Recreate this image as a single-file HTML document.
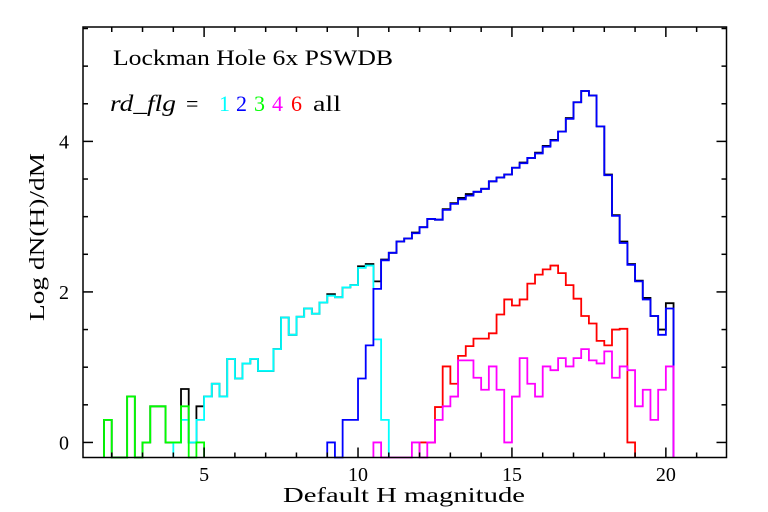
<!DOCTYPE html>
<html>
<head>
<meta charset="utf-8">
<style>
  html, body { margin: 0; padding: 0; background: #fff; }
  svg { display: block; }
  text { font-family: "Liberation Serif", serif; fill: #000; }
</style>
</head>
<body>
<svg id="chart" width="768" height="512" viewBox="0 0 768 512" xmlns="http://www.w3.org/2000/svg">
  <rect x="0" y="0" width="768" height="512" fill="#fff"/>
  <g id="series"></g>
  <g id="axes"></g>
  <text x="113" y="65" font-size="22" textLength="280" lengthAdjust="spacingAndGlyphs">Lockman Hole 6x PSWDB</text>
  <g>
    <text x="110" y="111" font-size="23" font-style="italic" textLength="66" lengthAdjust="spacingAndGlyphs">rd_flg</text>
    <text x="186" y="111" font-size="22">=</text>
    <text x="219" y="111" font-size="22" style="fill:#00ffff">1</text>
    <text x="236" y="111" font-size="22" style="fill:#0000ff">2</text>
    <text x="254" y="111" font-size="22" style="fill:#00ff00">3</text>
    <text x="272" y="111" font-size="22" style="fill:#ff00ff">4</text>
    <text x="291" y="111" font-size="22" style="fill:#ff0000">6</text>
    <text x="313" y="111" font-size="22" textLength="28" lengthAdjust="spacingAndGlyphs">all</text>
  </g>
  <text x="404" y="502" font-size="21" text-anchor="middle" textLength="242" lengthAdjust="spacingAndGlyphs">Default H magnitude</text>
  <text transform="translate(44,237) rotate(-90)" x="0" y="0" font-size="21" text-anchor="middle" textLength="168" lengthAdjust="spacingAndGlyphs">Log dN(H)/dM</text>
</svg>
<script>
// ---- data ----
const binWidth = 0.25;
const allStart = 1.75;
const allValues = [0.30,null,null,0.61,null,0,0.48,0.48,0,0,0.71,0,0.48,
  0.61,0.78,0.61,1.11,0.85,1.05,1.11,0.95,0.95,1.24,1.66,1.43,1.67,1.78,1.71,1.86,
  1.97,1.93,2.06,2.09,2.34,2.37,2.14,2.43,2.52,2.67,2.71,2.79,2.86,2.97,2.96,3.10,
  3.18,3.25,3.30,3.33,3.37,3.47,3.52,3.56,3.65,3.72,3.78,3.85,3.94,4.02,4.13,4.31,
  4.52,4.67,4.61,4.20,3.56,3.02,2.67,2.37,2.15,1.92,1.68,1.50,1.85];
const cyanStart = 4.0;
const cyanValues = [0,0.30,0,0.30,0.61,0.78,0.61,1.11,0.85,1.05,1.11,0.95,0.95,1.24,1.66,1.43,
  1.67,1.78,1.71,1.86,1.95,1.93,2.06,2.09,2.32,2.35,1.37,0.30];
const blueStart = 9.0;
const blueValues = [0,null,0.30,0.30,0.85,1.29,2.04,2.42,2.52,2.67,2.71,2.78,2.86,2.97,2.96,3.09,
  3.17,3.23,3.28,3.33,3.37,3.47,3.52,3.56,3.65,3.71,3.78,3.84,3.93,4.01,4.13,4.30,
  4.52,4.67,4.61,4.20,3.55,3.01,2.65,2.36,2.14,1.90,1.68,1.43,1.78];
const greenStart = 1.75;
const greenValues = [0.30,null,null,0.61,null,0,0.48,0.48,0,0,0.48,null,0];
const magentaStart = 10.5;
const magentaValues = [0,null,null,null,null,0,null,0,0.30,0.48,0.61,1.09,1.09,0.86,0.70,1.01,0.70,0,
  0.61,1.12,0.78,0.61,1.01,0.96,1.12,1.01,1.12,1.24,1.09,1.05,1.21,0.86,1.01,0.96,0.48,0.70,0.30,0.70,1.01];
const redStart = 12.0;
const redValues = [0,0,0.47,1.01,0.78,1.15,1.28,1.38,1.38,1.45,1.70,1.90,1.82,1.90,2.11,2.23,
  2.30,2.35,2.25,2.09,1.91,1.68,1.58,1.35,1.29,1.50,1.51,0];
const xTickLabels = ["5","10","15","20"];
const xTickValues = [5,10,15,20];
const yTickLabels = ["0","2","4"];
const yTickValues = [0,2,4];

// ---- axes ----
const L = 83, R = 726.5, T = 27, B = 457.5;
const xMin = 1.066, xMax = 21.97;
const yMin = -0.2, yMax = 5.52;
function xs(v){ return L + (v - xMin) / (xMax - xMin) * (R - L); }
function ys(v){ return B - (v - yMin) / (yMax - yMin) * (B - T); }
const NS = "http://www.w3.org/2000/svg";
const seriesG = document.getElementById('series');
const axesG = document.getElementById('axes');

function stepPath(start, vals){
  const bottom = B;
  let d = "";
  for (let i = 0; i < vals.length; i++){
    const x0 = xs(start + i*binWidth), x1 = xs(start + (i+1)*binWidth);
    const v = vals[i];
    const y = (v === null) ? bottom : ys(v);
    if (i === 0) d += "M" + x0.toFixed(2) + " " + bottom;
    d += " L" + x0.toFixed(2) + " " + y.toFixed(2) + " L" + x1.toFixed(2) + " " + y.toFixed(2);
  }
  const xe = xs(start + vals.length*binWidth);
  d += " L" + xe.toFixed(2) + " " + bottom;
  return d;
}
function addSeries(name, start, vals, color){
  const p = document.createElementNS(NS, 'path');
  p.setAttribute('d', stepPath(start, vals));
  p.setAttribute('fill', 'none');
  p.setAttribute('stroke', color);
  p.setAttribute('stroke-width', '1.8');
  
  
  seriesG.appendChild(p);
}
addSeries('series-all', allStart, allValues, '#000000');
addSeries('series-rd-flg-1', cyanStart, cyanValues, '#00ffff');
addSeries('series-rd-flg-2', blueStart, blueValues, '#0000ff');
addSeries('series-rd-flg-6', redStart, redValues, '#ff0000');
addSeries('series-rd-flg-4', magentaStart, magentaValues, '#ff00ff');
addSeries('series-rd-flg-3', greenStart, greenValues, '#00ff00');

function line(x1,y1,x2,y2,name){
  const l = document.createElementNS(NS,'line');
  l.setAttribute('x1',x1); l.setAttribute('y1',y1);
  l.setAttribute('x2',x2); l.setAttribute('y2',y2);
  l.setAttribute('stroke','#000'); l.setAttribute('stroke-width','1.5');
  
  
  axesG.appendChild(l);
}
const frame = document.createElementNS(NS,'rect');
frame.setAttribute('x',L); frame.setAttribute('y',T);
frame.setAttribute('width',R-L); frame.setAttribute('height',B-T);
frame.setAttribute('fill','none'); frame.setAttribute('stroke','#000'); frame.setAttribute('stroke-width','1.5');


axesG.appendChild(frame);
for (let v = 2; v <= 21; v++){
  const major = (v % 5 === 0);
  const len = major ? 10 : 5;
  const x = xs(v);
  line(x,B,x,B-len,'x-tick');
  line(x,T,x,T+len,'x-tick-top');
}
for (let i = 0; i < xTickValues.length; i++){
  const t = document.createElementNS(NS,'text');
  t.setAttribute('x', xs(xTickValues[i]));
  t.setAttribute('y', 481);
  t.setAttribute('font-size','20');
  t.setAttribute('text-anchor','middle');
  t.textContent = xTickLabels[i];
  
  
  axesG.appendChild(t);
}
for (let k = 0; k <= 11; k++){
  const v = k*0.5;
  const major = (k % 4 === 0);
  const len = major ? 10 : 5;
  const y = ys(v);
  line(L,y,L+len,y,'y-tick');
  line(R,y,R-len,y,'y-tick-right');
}
for (let i = 0; i < yTickValues.length; i++){
  const t = document.createElementNS(NS,'text');
  t.setAttribute('x', 69);
  t.setAttribute('y', ys(yTickValues[i]) + 7);
  t.setAttribute('font-size','20');
  t.setAttribute('text-anchor','end');
  t.textContent = yTickLabels[i];
  
  
  axesG.appendChild(t);
}
</script>
</body>
</html>
